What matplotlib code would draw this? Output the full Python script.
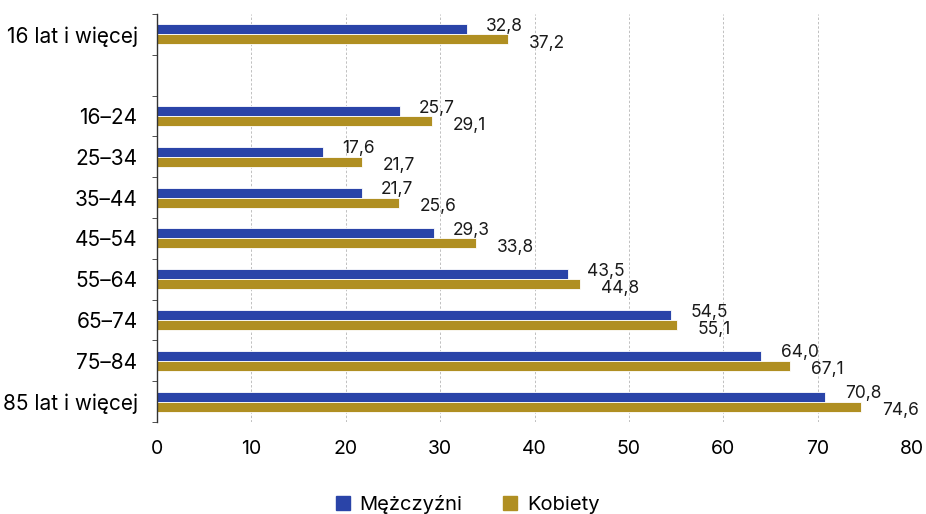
import matplotlib.pyplot as plt
import numpy as np
from matplotlib.patches import Patch
from matplotlib.ticker import FixedLocator

plt.rcParams['font.family'] = ['Inter', 'DejaVu Sans']

groups = ['16 lat i więcej', '', '16–24', '25–34', '35–44', '45–54',
          '55–64', '65–74', '75–84', '85 lat i więcej']
men = [32.8, None, 25.7, 17.6, 21.7, 29.3, 43.5, 54.5, 64.0, 70.8]
women = [37.2, None, 29.1, 21.7, 25.6, 33.8, 44.8, 55.1, 67.1, 74.6]

blue = '#2a44a8'
gold = '#b08f22'

fig = plt.figure(figsize=(9.26, 5.14), dpi=100)
ax = fig.add_axes([0.1695, 0.179, 0.8155, 0.794])

y = np.arange(len(groups))
h = 0.245
for i, (m, w) in enumerate(zip(men, women)):
    if m is None:
        continue
    ax.barh(i - h / 2, m, height=h, color=blue, edgecolor='white', linewidth=0.6)
    ax.barh(i + h / 2, w, height=h, color=gold, edgecolor='white', linewidth=0.6)
    ax.annotate(f'{m:.1f}'.replace('.', ','), (m, i - h / 2), xytext=(14, 2),
                textcoords='offset points', ha='left', va='center',
                fontsize=12.5, color='#1a1a1a')
    ax.annotate(f'{w:.1f}'.replace('.', ','), (w, i + h / 2), xytext=(15, -3),
                textcoords='offset points', ha='left', va='center',
                fontsize=12.5, color='#1a1a1a')

ax.set_ylim(len(groups) - 0.5, -0.5)
ax.set_xlim(0, 80)
ax.set_xticks(range(0, 81, 10))
ax.set_yticks(y)
ax.set_yticklabels(groups, fontsize=15)
ax.yaxis.set_minor_locator(FixedLocator(np.arange(-0.5, len(groups), 1)))
ax.tick_params(axis='y', which='major', length=0, pad=14)
ax.tick_params(axis='y', which='minor', length=3.5, color='#333333')
ax.tick_params(axis='x', length=0, labelsize=14, pad=13)

for s in ['top', 'right', 'bottom']:
    ax.spines[s].set_visible(False)
ax.spines['left'].set_color('#333333')
ax.spines['left'].set_linewidth(1)

for v in range(10, 81, 10):
    ax.axvline(v, color='#c0c0c0', linestyle=(0, (2.5, 2)), linewidth=0.7, zorder=0)

handles = [Patch(color=blue, label='Mężczyźni'), Patch(color=gold, label='Kobiety')]
fig.legend(handles=handles, loc='lower center', bbox_to_anchor=(0.505, -0.035),
           ncol=2, frameon=False, fontsize=14.5, handlelength=0.7,
           handleheight=0.7, columnspacing=2.0, handletextpad=0.5)

fig.savefig('out.png', dpi=100)
